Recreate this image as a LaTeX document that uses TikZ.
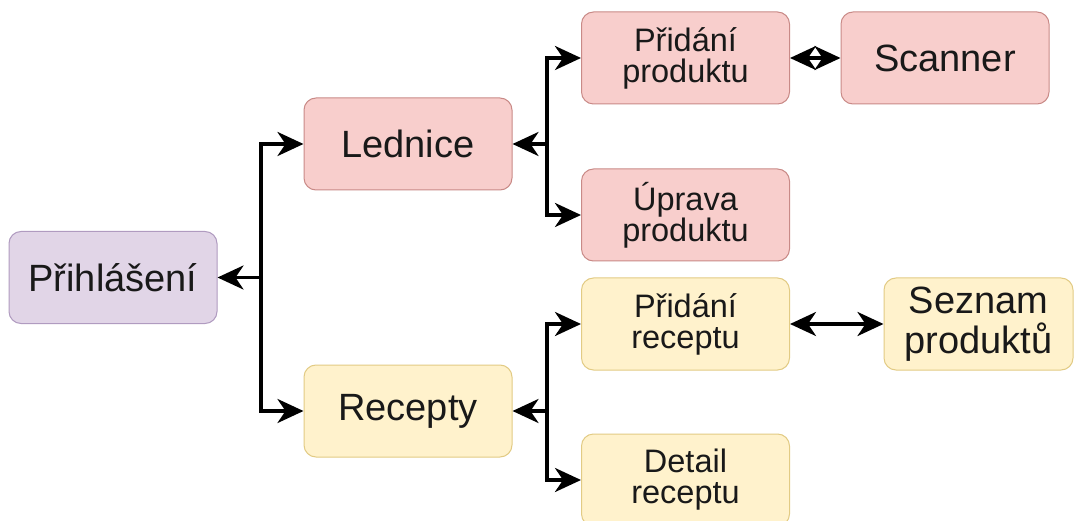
\documentclass[tikz,border=0pt]{standalone}
\usepackage{fontspec}
\setmainfont{Liberation Sans}
\usetikzlibrary{arrows.meta}
\definecolor{pinkfill}{HTML}{F8CECC}
\definecolor{pinkline}{HTML}{C98A87}
\definecolor{purplefill}{HTML}{E1D5E7}
\definecolor{purpleline}{HTML}{B09BC0}
\definecolor{yellowfill}{HTML}{FFF2CC}
\definecolor{yellowline}{HTML}{E2CB84}
\tikzset{
  box/.style={rounded corners=12pt, line width=1pt, minimum width=208pt,
    minimum height=92pt, inner sep=0pt, align=center, text=black!90},
  big/.style={font=\fontsize{38}{40}\selectfont},
  small/.style={font=\fontsize{32.5}{31}\selectfont},
  pinkbox/.style={box, fill=pinkfill, draw=pinkline},
  purplebox/.style={box, fill=purplefill, draw=purpleline},
  yellowbox/.style={box, fill=yellowfill, draw=yellowline},
  tip/.tip={Stealth[length=26pt, width=24pt, inset=8pt]},
  conn/.style={line width=3.5pt, -tip},
  both/.style={line width=3.5pt, tip-tip},
}
\begin{document}
\begin{tikzpicture}[x=1pt, y=-1pt]
  \useasboundingbox (0,0) rectangle (1081,521);
  \clip (0,0) rectangle (1081,521);
  \fill[white] (0,0) rectangle (1081,521);

  % boxes
  \node[purplebox, big] (prihl) at (113,277.5) {Přihlášení};
  \node[pinkbox, big] (led) at (408,144) {Lednice};
  \node[yellowbox, big] (rec) at (408,411) {Recepty};
  \node[pinkbox, small] (pridprod) at (685.5,58) {Přidání\\produktu};
  \node[pinkbox, small] (uprava) at (685.5,215) {Úprava\\produktu};
  \node[pinkbox, big] (scan) at (945,58) {Scanner};
  \node[yellowbox, small] (pridrec) at (685.5,324) {Přidání\\receptu};
  \node[yellowbox, big, minimum width=189pt] (seznam) at (978.5,324) {Seznam\\produktů};
  \node[yellowbox, small] (detail) at (685.5,480) {Detail\\receptu};

  % junction points
  \coordinate (j1) at (261,277.5);
  \coordinate (j2) at (547,144);
  \coordinate (j3) at (547,411);

  % tree connectors
  \draw[conn] (j1) -- (prihl.east);
  \draw[conn] (j1) |- (led.west);
  \draw[conn] (j1) |- (rec.west);
  \draw[conn] (j2) -- (led.east);
  \draw[conn] (j2) |- (pridprod.west);
  \draw[conn] (j2) |- (uprava.west);
  \draw[conn] (j3) -- (rec.east);
  \draw[conn] (j3) |- (pridrec.west);
  \draw[conn] (j3) |- (detail.west);

  % side links
  \draw[both] (pridprod.east) -- (scan.west);
  \draw[both] (pridrec.east) -- (seznam.west);
\end{tikzpicture}
\end{document}
